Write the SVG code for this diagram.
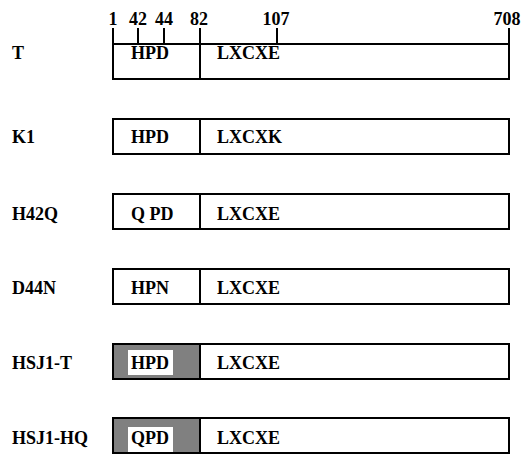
<svg xmlns="http://www.w3.org/2000/svg" width="524" height="455" viewBox="0 0 524 455">
<style>
text{font-family:"Liberation Serif","Times New Roman",serif;font-weight:bold;font-size:18px;fill:#000}
.box{fill:#fff;stroke:#000;stroke-width:2}
.gray{fill:#808080;stroke:#000;stroke-width:2}
.ln{stroke:#000;stroke-width:2;fill:none}
.num{text-anchor:middle}
</style>
<rect width="524" height="455" fill="#fff"/>
<g id="scale">
<line class="ln" x1="113" y1="28" x2="113" y2="44"/>
<line class="ln" x1="138" y1="28" x2="138" y2="44"/>
<line class="ln" x1="164" y1="28" x2="164" y2="44"/>
<line class="ln" x1="200" y1="28" x2="200" y2="44"/>
<line class="ln" x1="277" y1="28" x2="277" y2="44"/>
<line class="ln" x1="509" y1="28" x2="509" y2="44"/>
<text class="num" x="113" y="25">1</text>
<text class="num" x="138" y="25">42</text>
<text class="num" x="164" y="25">44</text>
<text class="num" x="199" y="25">82</text>
<text class="num" x="276" y="25">107</text>
<text class="num" x="507" y="25">708</text>
</g>
<g id="row-T">
<text x="12" y="59">T</text>
<rect class="box" x="113" y="44" width="396" height="35"/>
<line class="ln" x1="200" y1="44" x2="200" y2="79"/>
<text x="131" y="59">HPD</text>
<text x="217" y="59">LXCXE</text>
</g>
<g id="row-K1">
<text x="12" y="143">K1</text>
<rect class="box" x="113" y="119" width="396" height="35"/>
<line class="ln" x1="200" y1="119" x2="200" y2="154"/>
<text x="131" y="143">HPD</text>
<text x="217" y="143">LXCXK</text>
</g>
<g id="row-H42Q">
<text x="12" y="220">H42Q</text>
<rect class="box" x="113" y="194" width="396" height="35"/>
<line class="ln" x1="200" y1="194" x2="200" y2="229"/>
<text x="131" y="220" xml:space="preserve">Q PD</text>
<text x="217" y="220">LXCXE</text>
</g>
<g id="row-D44N">
<text x="12" y="294">D44N</text>
<rect class="box" x="113" y="269" width="396" height="35"/>
<line class="ln" x1="200" y1="269" x2="200" y2="304"/>
<text x="131" y="294">HPN</text>
<text x="217" y="294">LXCXE</text>
</g>
<g id="row-HSJ1-T">
<text x="12" y="369">HSJ1-T</text>
<rect class="box" x="113" y="344" width="396" height="35"/>
<rect class="gray" x="113" y="344" width="87" height="35"/>
<rect x="128" y="350" width="45" height="25" fill="#fff"/>
<text x="131" y="369">HPD</text>
<text x="217" y="369">LXCXE</text>
</g>
<g id="row-HSJ1-HQ">
<text x="12" y="444">HSJ1-HQ</text>
<rect class="box" x="113" y="418" width="396" height="35"/>
<rect class="gray" x="113" y="418" width="87" height="35"/>
<rect x="128" y="427" width="45" height="25" fill="#fff"/>
<text x="131" y="444">QPD</text>
<text x="217" y="444">LXCXE</text>
</g>
<g id="connectors"></g>
</svg>
